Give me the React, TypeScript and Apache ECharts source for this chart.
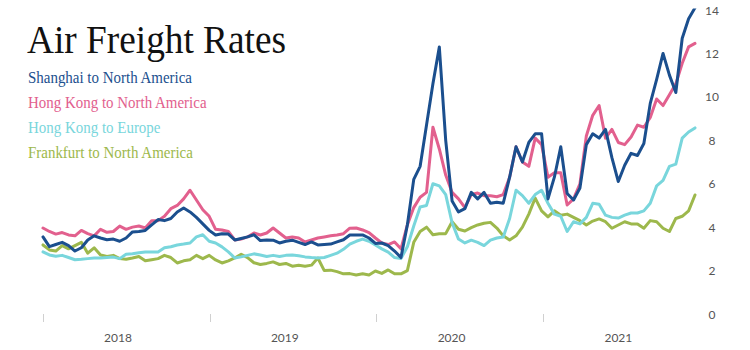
import React, { useEffect, useRef } from "react";
import * as echarts from "echarts";

const title = "Air Freight Rates";
const seriesNames = [
  "Shanghai to North America",
  "Hong Kong to North America",
  "Hong Kong to Europe",
  "Frankfurt to North America",
];
const seriesColors = ["#1b4f8e", "#e2608e", "#79d6dc", "#9db84c"];

// biweekly observations starting at the beginning of 2018
const startYear = 2018;
const stepYears = 14 / 365.25;

const shanghaiNA = [
  3.55, 3.1, 3.2, 3.3, 3.15, 2.9, 3.05, 3.41, 3.6, 3.5,
  3.42, 3.45, 3.35, 3.5, 3.78, 3.8, 3.85, 4.1, 4.35, 4.3,
  4.4, 4.7, 4.88, 4.7, 4.45, 4.15, 3.85, 3.64, 3.7, 3.68,
  3.41, 3.48, 3.55, 3.65, 3.38, 3.41, 3.4, 3.27, 3.35, 3.4,
  3.3, 3.2, 3.32, 3.18, 3.2, 3.22, 3.32, 3.42, 3.64, 3.64,
  3.64, 3.5, 3.25, 3.27, 3.15, 2.9, 2.6, 4.1, 6.2, 6.8,
  8.7, 10.6, 12.3, 8.0, 5.2, 4.7, 4.85, 5.6, 5.3, 5.6,
  5.1, 5.15, 5.1, 6.3, 7.7, 7.0, 7.9, 8.3, 8.3, 5.3,
  6.3, 7.7, 5.55, 5.25, 5.8, 7.8, 8.3, 8.1, 8.5, 7.2,
  6.1, 6.85, 7.4, 7.3, 7.85, 9.7, 10.8, 12.0, 11.0, 10.2,
  12.7, 13.6, 14.1,
];
const hongKongNA = [
  3.96, 3.8, 3.68, 3.75, 3.64, 3.6, 3.85, 3.7, 3.6, 3.9,
  3.76, 3.8, 4.05, 3.9, 4.0, 4.05, 3.96, 4.3, 4.3, 4.5,
  4.85, 5.0, 5.3, 5.7, 5.25, 4.8, 4.5, 3.9, 3.87, 3.8,
  3.41, 3.45, 3.55, 3.73, 3.64, 3.73, 3.96, 3.73, 3.5, 3.55,
  3.5, 3.32, 3.41, 3.5, 3.55, 3.6, 3.64, 3.7, 3.95, 3.96,
  3.87, 3.75, 3.5, 3.27, 3.2, 3.32, 3.0, 4.1, 4.9, 5.38,
  5.6, 8.6, 7.6, 6.4, 5.6, 5.3, 4.9, 5.5, 5.57, 5.45,
  5.45, 5.4, 5.5, 6.3, 7.7, 7.0, 6.8, 8.1, 7.8, 6.3,
  6.5, 6.5, 5.02, 5.3, 6.0, 8.2, 9.15, 9.6, 8.1, 8.5,
  7.9, 7.8, 8.15, 8.7, 8.6, 9.05, 9.9, 9.6, 10.1, 10.6,
  11.55, 12.3, 12.46,
];
const hongKongEurope = [
  2.86, 2.72, 2.66, 2.7, 2.6, 2.5, 2.52, 2.55, 2.58, 2.58,
  2.6, 2.62, 2.55, 2.75, 2.77, 2.82, 2.86, 2.86, 2.86, 3.05,
  3.1, 3.18, 3.22, 3.27, 3.55, 3.65, 3.35, 3.27, 3.09, 2.86,
  2.58, 2.63, 2.7, 2.77, 2.72, 2.65, 2.7, 2.65, 2.7, 2.72,
  2.68, 2.63, 2.6, 2.58, 2.6, 2.7, 2.8, 2.98, 3.22, 3.35,
  3.45, 3.35, 3.18, 3.0, 2.85, 2.6, 2.55, 3.1, 4.05, 4.93,
  5.0, 6.0, 5.9, 5.5, 4.2, 3.45, 3.27, 3.4, 3.3, 3.15,
  3.4, 3.5, 3.55, 4.4, 5.7, 5.45, 5.1, 5.5, 5.7, 5.1,
  4.6, 4.5, 3.8, 4.25, 4.15, 4.45, 5.1, 5.05, 4.55, 4.45,
  4.42, 4.55, 4.65, 4.65, 4.75, 5.1, 5.9, 6.15, 6.8, 6.9,
  8.1, 8.38, 8.57,
];
const frankfurtNA = [
  3.18, 2.95, 2.9, 3.15, 3.0, 3.15, 3.3, 2.8, 3.05, 2.72,
  2.65, 2.7, 2.55, 2.52, 2.58, 2.65, 2.45, 2.5, 2.55, 2.7,
  2.6, 2.35, 2.45, 2.5, 2.7, 2.55, 2.7, 2.49, 2.35, 2.45,
  2.58, 2.75, 2.6, 2.36, 2.28, 2.33, 2.4, 2.28, 2.33, 2.2,
  2.24, 2.2, 2.25, 2.58, 2.0, 2.02, 1.95, 1.85, 1.86, 1.8,
  1.85, 1.8, 1.98, 1.87, 2.03, 1.85, 1.85, 2.0, 3.3, 3.8,
  4.0, 3.65, 3.7, 3.7, 4.25, 3.9, 3.82, 3.98, 4.1, 4.18,
  4.22, 3.96, 3.6, 3.41, 3.6, 4.0, 4.6, 5.34, 4.75, 4.47,
  4.75, 4.55, 4.6, 4.45, 4.3, 4.1, 4.28, 4.38, 4.25, 3.95,
  4.1, 4.25, 4.15, 4.15, 3.95, 4.3, 4.25, 3.95, 3.8, 4.4,
  4.5, 4.75, 5.48,
];
const allValues = [shanghaiNA, hongKongNA, hongKongEurope, frankfurtNA];

const yearLabels = ["2018", "2019", "2020", "2021"];
const yearStarts = [2018, 2019, 2020, 2021];
const yTicks = [0, 2, 4, 6, 8, 10, 12, 14];

export default function App() {
  const ref = useRef<HTMLDivElement>(null);

  useEffect(() => {
    if (!ref.current) return;
    const chart = echarts.init(ref.current, null, { renderer: "svg" });
    const n = shanghaiNA.length;
    const xMax = startYear + (n - 1) * stepYears;
    const toPairs = (vals: number[]) =>
      vals.map((v, i) => [startYear + i * stepYears, v]);

    // draw order: green, cyan, pink, blue on top
    const order = [3, 2, 1, 0];
    const series = order.map((k) => ({
      name: seriesNames[k],
      type: "line",
      data: toPairs(allValues[k]),
      showSymbol: false,
      symbol: "none",
      lineStyle: { color: seriesColors[k], width: 3, join: "round", cap: "round" },
      itemStyle: { color: seriesColors[k] },
      z: 2,
    }));

    const legendTexts = seriesNames.map((name, k) => ({
      type: "text",
      x: 28,
      y: 77.5 + k * 25,
      scaleX: 0.88,
      style: {
        text: name,
        font: '17px "Liberation Serif"',
        fill: seriesColors[k],
        verticalAlign: "middle",
        align: "left",
      },
    }));

    chart.setOption({
      animation: false,
      backgroundColor: "#ffffff",
      grid: { left: 43, right: 55, top: 10, bottom: 36, containLabel: false },
      xAxis: {
        type: "value",
        min: startYear,
        max: xMax,
        axisLine: { show: false },
        splitLine: { show: false },
        axisTick: {
          show: true,
          customValues: yearStarts,
          length: 8,
          lineStyle: { color: "#d0d0d0", width: 1 },
        },
        axisLabel: {
          customValues: yearStarts.map((y) => y + 0.45),
          formatter: (v: number) => yearLabels[Math.floor(v + 1e-6) - startYear] ?? "",
          color: "#555",
          fontFamily: "Lato",
          fontSize: 12,
          margin: 17,
        },
      },
      yAxis: {
        type: "value",
        position: "right",
        min: yTicks[0],
        max: yTicks[yTicks.length - 1],
        interval: 2,
        axisLine: { show: false },
        axisTick: { show: false },
        splitLine: { show: false },
        axisLabel: {
          color: "#555",
          fontFamily: "Lato",
          fontSize: 12,
          align: "center",
          margin: 17,
        },
      },
      series,
      graphic: [
        {
          type: "text",
          x: 27,
          y: 39,
          scaleX: 0.91,
          z: 10,
          style: {
            text: title,
            font: '41px "Liberation Serif"',
            fill: "#111",
            verticalAlign: "middle",
            align: "left",
          },
        },
        ...legendTexts.map((t) => ({ ...t, z: 10 })),
      ],
    });

    return () => chart.dispose();
  }, []);

  return (
    <div
      ref={ref}
      style={{ position: "fixed", left: 0, top: 0, width: 750, height: 350, background: "#fff" }}
    />
  );
}
